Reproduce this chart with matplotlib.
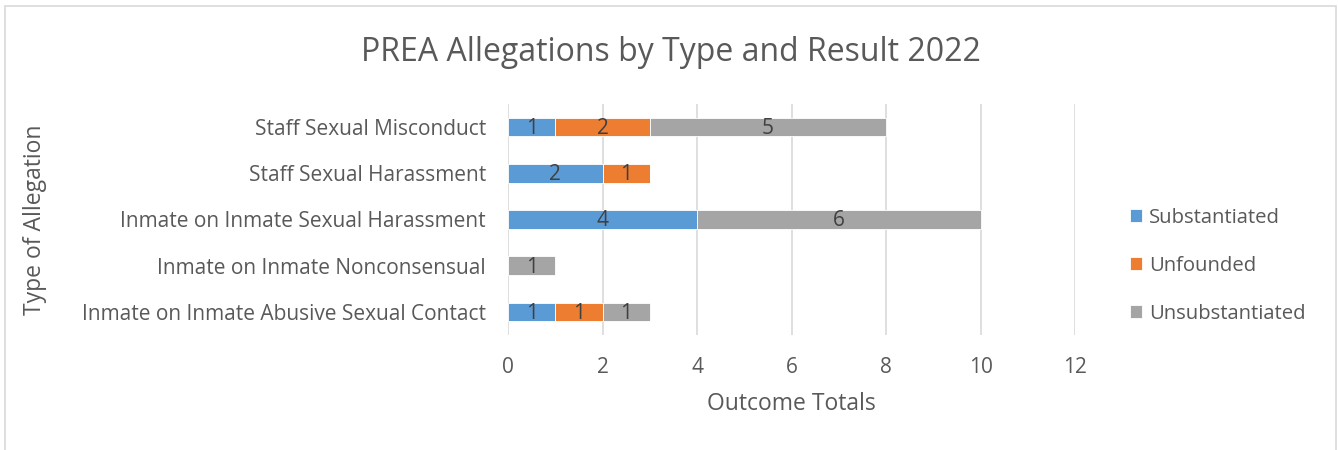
import matplotlib
matplotlib.use("Agg")
import matplotlib.pyplot as plt
import numpy as np

# data, bottom row first
categories = [
    "Inmate on Inmate Abusive Sexual Contact",
    "Inmate on Inmate Nonconsensual",
    "Inmate on Inmate Sexual Harassment",
    "Staff Sexual Harassment",
    "Staff Sexual Misconduct",
]
substantiated = [1, 0, 4, 2, 1]
unfounded = [1, 0, 0, 1, 2]
unsubstantiated = [1, 1, 6, 0, 5]

series_names = ["Substantiated", "Unfounded", "Unsubstantiated"]
colors = ["#5B9BD5", "#ED7D31", "#A5A5A5"]
xticks = [0, 2, 4, 6, 8, 10, 12]

plt.rcParams['font.family'] = ['Open Sans', 'DejaVu Sans']
txt = "#595959"

fig = plt.figure(figsize=(13.38, 4.5), dpi=100)
ax = fig.add_axes([0.3797, 0.2556, 0.4238, 0.5133])

y = np.arange(len(categories))
left = np.zeros(len(categories))
for vals, name, col in zip([substantiated, unfounded, unsubstantiated], series_names, colors):
    vals = np.array(vals, dtype=float)
    bars = ax.barh(y, vals, left=left, height=0.4, color=col, label=name,
                   edgecolor="white", linewidth=0.6, zorder=3)
    for b, v, l in zip(bars, vals, left):
        if v > 0:
            ax.text(l + v / 2, b.get_y() + b.get_height() / 2 - 0.03, str(int(v)),
                    ha="center", va="center", fontsize=15, color="#404040", zorder=4)
    left += vals

ax.set_xlim(0, 12)
ax.set_ylim(-0.5, len(categories) - 0.5)
ax.set_xticks(xticks)
ax.set_yticks(y)
ax.set_yticklabels(categories)
ax.tick_params(axis="both", length=0, labelsize=15, colors=txt)
ax.tick_params(axis="x", pad=16)
ax.tick_params(axis="y", pad=16)
ax.grid(axis="x", color="#D9D9D9", linewidth=1.2, zorder=0)
for s in ax.spines.values():
    s.set_visible(False)

ax.set_xlabel("Outcome Totals", fontsize=16.5, color=txt, labelpad=10)
fig.text(0.0262, 0.511, "Type of Allegation", rotation=90, ha="center", va="center",
         fontsize=16.5, color=txt)
fig.text(0.5015, 0.884, "PREA Allegations by Type and Result 2022", ha="center", va="center",
         fontsize=23, color=txt)

leg = fig.legend(loc="center left", bbox_to_anchor=(0.831, 0.409), frameon=False,
                 fontsize=14.6, labelcolor=txt, handlelength=0.6, handleheight=0.6,
                 handletextpad=0.35, labelspacing=1.38)

# chart area border
fig.add_artist(plt.Rectangle((5 / 1338, -0.01), 1331 / 1338, 1.01 - 6 / 450,
                             transform=fig.transFigure, fill=False,
                             edgecolor="#D9D9D9", linewidth=1.2))

fig.savefig("out.png", dpi=100)
